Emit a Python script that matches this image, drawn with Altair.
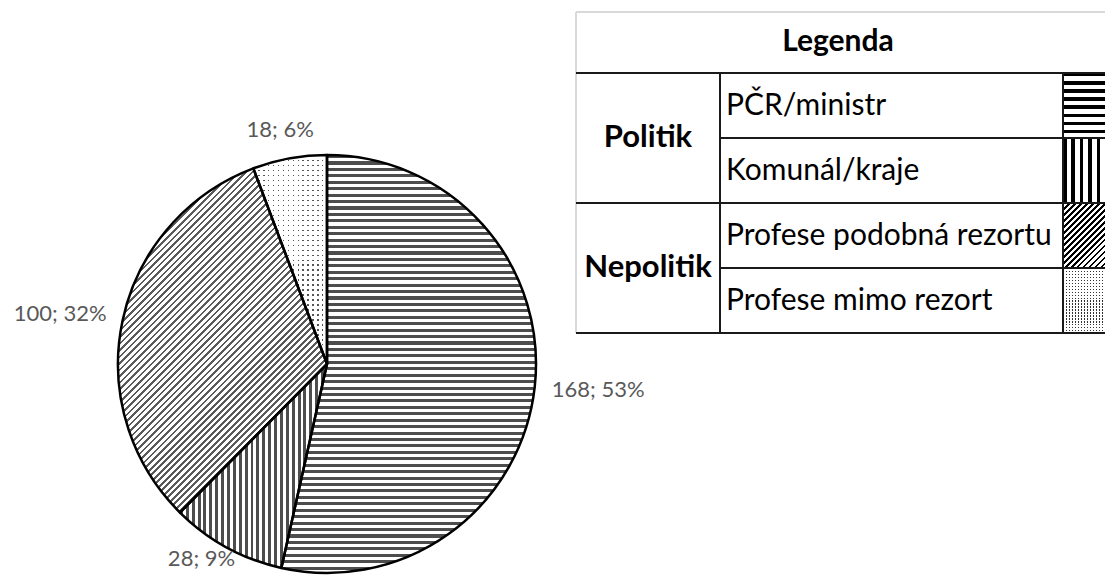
import altair as alt
import pandas as pd
import numpy as np

# ---------------- data ----------------
categories = ["PČR/ministr", "Komunál/kraje", "Profese podobná rezortu", "Profese mimo rezort"]
groups = ["Politik", "Politik", "Nepolitik", "Nepolitik"]
counts = [168, 28, 100, 18]
percents = [53, 9, 32, 6]
legend_title = "Legenda"

df = pd.DataFrame({"k": list(range(len(categories))), "cat": categories, "grp": groups,
                   "value": counts, "pct": percents})
df["label"] = [f"{v}; {p}%" for v, p in zip(counts, percents)]
df["gstart"] = df["grp"] != df["grp"].shift()

# ---------------- layout / style constants ----------------
W, H = 1097, 567
CX, CY, R = 319, 356, 209
GAP, HH, CHW = 19, 10, 5.6
FONT = "Lato"

def stripes(n, duty, dark, light, x2, y2):
    stops = []
    n = max(int(round(n)), 1)
    for i in range(n):
        a, b, c = i / n, (i + duty) / n, (i + 1) / n
        stops += [{"offset": round(a, 6), "color": dark}, {"offset": round(b, 6), "color": dark},
                  {"offset": round(b, 6), "color": light}, {"offset": round(c, 6), "color": light}]
    return {"gradient": "linear", "x1": 0, "y1": 0, "x2": x2, "y2": y2, "stops": stops}

def hpat(w, h, period, duty, dark, light="white"):
    return stripes(h / period, duty, dark, light, 0, 1)

def vpat(w, h, period, duty, dark, light="white"):
    return stripes(w / period, duty, dark, light, 1, 0)

def dpat(w, h, period, duty, dark, light="white"):
    s = (w + h) / (w * w + h * h)
    return stripes((w + h) / (np.sqrt(2) * period), duty, dark, light, round(w * s, 5), round(h * s, 5))

def cond(grads, other):
    return {"condition": [{"test": f"datum.k === {i}", "value": g} for i, g in enumerate(grads) if g is not None],
            "value": other}

# wedge bounding boxes (for pattern scale)
tot = sum(counts)
edges = np.concatenate([[0], np.cumsum(counts)]) / tot * 2 * np.pi
boxes = []
for a0, a1 in zip(edges[:-1], edges[1:]):
    ang = np.linspace(a0, a1, 600)
    xs = np.concatenate([[0], R * np.sin(ang)])
    ys = np.concatenate([[0], -R * np.cos(ang)])
    boxes.append((xs.max() - xs.min(), ys.max() - ys.min()))

PD = "#4d4d4d"
pie_fills = [
    hpat(*boxes[0], 6.4, 0.48, PD),
    vpat(*boxes[1], 6.0, 0.5, PD),
    dpat(*boxes[2], 4.6, 0.42, "#5a5a5a"),
    hpat(*boxes[3], 5.0, 0.28, "#555555"),
]
pie_mask = vpat(*boxes[3], 5.0, 0.28, "rgba(255,255,255,0)", "white")

SW, SH = 42, 65
leg_fills = [
    hpat(SW, SH, 8, 0.42, "black"),
    vpat(SW, SH, 8, 0.42, "black"),
    dpat(SW, SH, 4.2, 0.45, "black"),
    hpat(SW, SH, 3, 0.45, "#333333"),
]
leg_mask = vpat(SW, SH, 3, 0.45, "rgba(255,255,255,0)", "white")

# ---------------- pie ----------------
base = alt.Chart(df).encode(
    theta=alt.Theta("value:Q", stack=True),
    order=alt.Order("k:Q", sort="ascending"),
    x=alt.value(CX), y=alt.value(CY),
)
pie_fill = base.mark_arc(outerRadius=R, strokeWidth=0).encode(fill=cond(pie_fills, "white"))
pie_dots = base.mark_arc(outerRadius=R, strokeWidth=0).encode(
    fill=cond([None, None, None, pie_mask], "rgba(255,255,255,0)"))
pie_line = base.mark_arc(outerRadius=R, fill="transparent", stroke="black", strokeWidth=2.5,
                         strokeJoin="round")

labels = alt.Chart(df).transform_joinaggregate(total="sum(value)").transform_window(
    cum="sum(value)", sort=[alt.SortField("k")]
).transform_calculate(
    mid="(datum.cum - datum.value / 2) / datum.total * 2 * PI",
    hw=f"length(datum.label) * {CHW}",
).transform_calculate(
    lx=f"{CX} + ({R + GAP} + datum.hw) * sin(datum.mid)",
    ly=f"min({H - 16}, {CY} - ({R + GAP}) * cos(datum.mid) - {HH} * cos(datum.mid))",
).mark_text(font=FONT, fontSize=22, color="#595959", align="center", baseline="middle").encode(
    x=alt.X("lx:Q", scale=None), y=alt.Y("ly:Q", scale=None), text="label:N")

# ---------------- legend table ----------------
T_L, T_T, C1, C2, T_R = 568, 4, 712, 1055, W
ROW0, ROW1 = 65, 325
yband = alt.Scale(type="band", domain=categories, range=[ROW0, ROW1], paddingInner=0, paddingOuter=0)

def ry(bp):
    return alt.Y("cat:N", scale=yband, axis=None, bandPosition=bp)

tab = alt.Chart(df)
swatch = tab.mark_rect(strokeWidth=0).encode(
    y=alt.Y("cat:N", scale=yband, axis=None), x=alt.value(C2), x2=alt.value(T_R),
    fill=cond(leg_fills, "white"))
swatch_dots = tab.mark_rect(strokeWidth=0).encode(
    y=alt.Y("cat:N", scale=yband, axis=None), x=alt.value(C2), x2=alt.value(T_R),
    fill=cond([None, None, None, leg_mask], "rgba(255,255,255,0)"))

LC = "#1a1a1a"
rule_grp = tab.transform_filter("datum.gstart").mark_rule(color=LC, strokeWidth=2).encode(
    y=ry(0), x=alt.value(T_L), x2=alt.value(T_R))
rule_sub = tab.transform_filter("!datum.gstart").mark_rule(color=LC, strokeWidth=2).encode(
    y=ry(0), x=alt.value(C1), x2=alt.value(T_R))
rule_bot = tab.transform_filter(f"datum.k === {len(categories) - 1}").mark_rule(
    color=LC, strokeWidth=2).encode(y=ry(1), x=alt.value(T_L), x2=alt.value(T_R))

one = alt.Chart(pd.DataFrame({"t": [legend_title]}))
vline1 = one.mark_rule(color=LC, strokeWidth=2).encode(x=alt.value(C1), y=alt.value(ROW0), y2=alt.value(ROW1))
vline2 = one.mark_rule(color=LC, strokeWidth=2).encode(x=alt.value(C2), y=alt.value(ROW0), y2=alt.value(ROW1))
top_b = one.mark_rule(color="#d9d9d9", strokeWidth=2).encode(x=alt.value(T_L), x2=alt.value(T_R), y=alt.value(T_T))
left_b = one.mark_rule(color="#d9d9d9", strokeWidth=2).encode(x=alt.value(T_L), y=alt.value(T_T), y2=alt.value(ROW1))

title_t = one.mark_text(font=FONT, fontSize=30, fontWeight="bold", color="black",
                        align="center", baseline="middle").encode(
    x=alt.value(830), y=alt.value(34), text="t:N")
cat_t = tab.mark_text(font=FONT, fontSize=30, color="black", align="left", baseline="middle").encode(
    y=ry(0.5), x=alt.value(C1 + 6), text="cat:N")
grp_t = tab.transform_filter("datum.gstart").mark_text(
    font=FONT, fontSize=31, fontWeight="bold", color="black", align="center", baseline="middle").encode(
    y=ry(1), x=alt.value((T_L + C1) / 2), text="grp:N")

chart = alt.layer(
    pie_fill, pie_dots, pie_line, labels,
    swatch, swatch_dots, top_b, left_b, rule_grp, rule_sub, rule_bot, vline1, vline2,
    title_t, cat_t, grp_t,
).resolve_scale(x="independent", y="independent").properties(
    width=W, height=H, padding=0, autosize=alt.AutoSizeParams(type="none"),
).configure_view(stroke=None)

chart.save("out.html", embed_options={"renderer": "svg", "actions": False})
